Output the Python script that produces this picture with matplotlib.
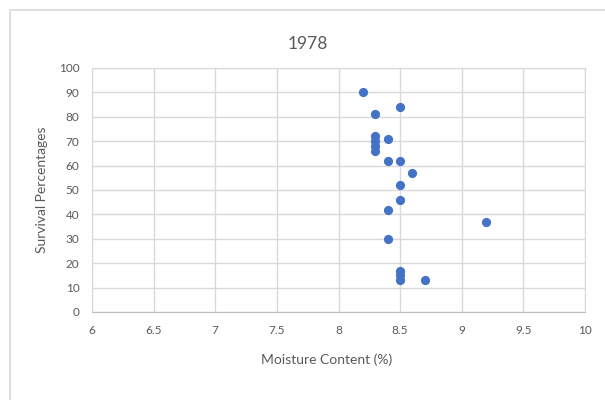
import matplotlib
matplotlib.use('Agg')
import matplotlib.pyplot as plt
from matplotlib.patches import Rectangle

# Datos
humedad = [8.2, 8.3, 8.5, 8.3, 8.3, 8.3, 8.3, 8.4, 8.4, 8.5, 8.6, 8.5,
           8.5, 8.4, 9.2, 8.4, 8.5, 8.5, 8.5, 8.7]
supervivencia = [90, 81, 84, 72, 70, 68, 66, 71, 62, 62, 57, 52,
                 46, 42, 37, 30, 17, 15, 13, 13]

titulo = '1978'
etiqueta_x = 'Moisture Content (%)'
etiqueta_y = 'Survival Percentages'
ticks_x = [6, 6.5, 7, 7.5, 8, 8.5, 9, 9.5, 10]
ticks_y = list(range(0, 101, 10))

plt.rcParams['font.family'] = ['Lato', 'DejaVu Sans']

fig = plt.figure(figsize=(6.05, 4.0), dpi=100)
# Marco del área del gráfico (recortado a la derecha y abajo)
fig.patches.append(Rectangle((10 / 605, -0.1), 1.2, 1 - 10 / 400 + 0.1,
                             transform=fig.transFigure, fill=False,
                             edgecolor='#D9D9D9', linewidth=1.2))

ax = fig.add_axes([92 / 605, 88 / 400, 493 / 605, 244 / 400])
ax.scatter(humedad, supervivencia, s=44, color='#4472C4', zorder=3,
           linewidths=0)
ax.set_xlim(6, 10)
ax.set_ylim(0, 100)
ax.set_xticks(ticks_x)
ax.set_xticklabels([f'{t:g}' for t in ticks_x])
ax.set_yticks(ticks_y)
ax.grid(True, color='#D9D9D9', linewidth=1)
for lado in ax.spines.values():
    lado.set_color('#D9D9D9')
ax.spines['bottom'].set_color('#BFBFBF')
ax.tick_params(length=0, labelsize=8.5, colors='#595959', pad=9)

fig.text(308 / 605, 1 - 44 / 400, titulo, ha='center', va='center',
         fontsize=12.5, color='#595959')
fig.text(327 / 605, 1 - 360 / 400, etiqueta_x, ha='center', va='center',
         fontsize=10, color='#595959')
fig.text(42 / 605, 1 - 190 / 400, etiqueta_y, ha='center', va='center',
         rotation=90, fontsize=10, color='#595959')

fig.savefig('out.png', dpi=100)
